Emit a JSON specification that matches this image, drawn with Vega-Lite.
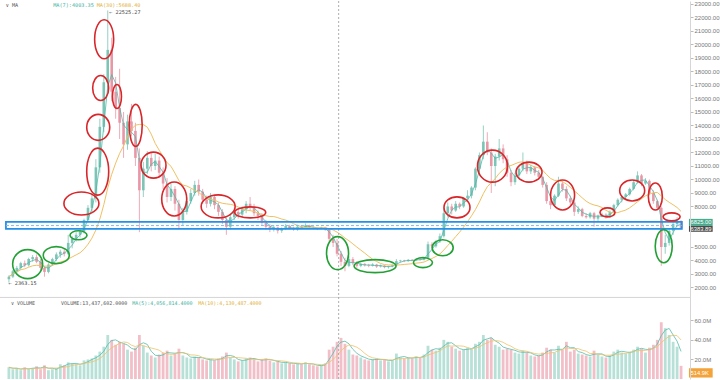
{
"$schema": "https://vega.github.io/schema/vega-lite/v6.json",
"width": 720, "height": 380,
"autosize": {"type": "fit", "contains": "padding"},
"padding": {"left": -5, "top": 0, "right": 0, "bottom": 0},
"background": "white",
"config": {"view": {"stroke": null}, "font": "Liberation Sans"},
"datasets": {
"candles": [
{"t":2,"o":2600,"h":2900,"l":2363.15,"c":2800,"v":12},
{"t":3,"o":2800,"h":3300,"l":2700,"c":3200,"v":10},
{"t":4,"o":3200,"h":3600,"l":3000,"c":3450,"v":11},
{"t":5,"o":3450,"h":3900,"l":3300,"c":3800,"v":9},
{"t":6,"o":3800,"h":4000,"l":3500,"c":3650,"v":12},
{"t":7,"o":3650,"h":4200,"l":3550,"c":4100,"v":10},
{"t":8,"o":4100,"h":4400,"l":3900,"c":4250,"v":11},
{"t":9,"o":4250,"h":4450,"l":3800,"c":3900,"v":13},
{"t":10,"o":3900,"h":4100,"l":3300,"c":3450,"v":10},
{"t":11,"o":3450,"h":3600,"l":2800,"c":3150,"v":14},
{"t":12,"o":3150,"h":3800,"l":3050,"c":3700,"v":9},
{"t":13,"o":3700,"h":4200,"l":3600,"c":4100,"v":10},
{"t":14,"o":4100,"h":4600,"l":3950,"c":4450,"v":11},
{"t":15,"o":4450,"h":4800,"l":4200,"c":4650,"v":15},
{"t":16,"o":4650,"h":4900,"l":4300,"c":4500,"v":14},
{"t":17,"o":4500,"h":5900,"l":4400,"c":5300,"v":17},
{"t":18,"o":5300,"h":5800,"l":4900,"c":5600,"v":16},
{"t":19,"o":5600,"h":6100,"l":5400,"c":5900,"v":15},
{"t":20,"o":5900,"h":6300,"l":5700,"c":6150,"v":14},
{"t":21,"o":6150,"h":7100,"l":6000,"c":7000,"v":19},
{"t":22,"o":7000,"h":8100,"l":6900,"c":7900,"v":20},
{"t":23,"o":7900,"h":9000,"l":7600,"c":8600,"v":21},
{"t":24,"o":8600,"h":11500,"l":8300,"c":10900,"v":24},
{"t":25,"o":10900,"h":14500,"l":10500,"c":13900,"v":28},
{"t":26,"o":13900,"h":17800,"l":13500,"c":17200,"v":33},
{"t":27,"o":17200,"h":22525.27,"l":16800,"c":19600,"v":45},
{"t":28,"o":19600,"h":20500,"l":15800,"c":16500,"v":40},
{"t":29,"o":16500,"h":17600,"l":14500,"c":15300,"v":35},
{"t":30,"o":15300,"h":18200,"l":13000,"c":14200,"v":38},
{"t":31,"o":14200,"h":15000,"l":11600,"c":12600,"v":36},
{"t":32,"o":12600,"h":14800,"l":12200,"c":14300,"v":30},
{"t":33,"o":14300,"h":15600,"l":13200,"c":13600,"v":28},
{"t":34,"o":13600,"h":14200,"l":11000,"c":11600,"v":32},
{"t":35,"o":11600,"h":12300,"l":6100,"c":9200,"v":45},
{"t":36,"o":9200,"h":11300,"l":8700,"c":10800,"v":34},
{"t":37,"o":10800,"h":12100,"l":10400,"c":11600,"v":27},
{"t":38,"o":11600,"h":12000,"l":10600,"c":11000,"v":24},
{"t":39,"o":11000,"h":11900,"l":10700,"c":11400,"v":22},
{"t":40,"o":11400,"h":11700,"l":10100,"c":10500,"v":25},
{"t":41,"o":10500,"h":10900,"l":9300,"c":9700,"v":27},
{"t":42,"o":9700,"h":10100,"l":8300,"c":8700,"v":29},
{"t":43,"o":8700,"h":9700,"l":8400,"c":9300,"v":24},
{"t":44,"o":9300,"h":9500,"l":7700,"c":8200,"v":26},
{"t":45,"o":8200,"h":8500,"l":6300,"c":7000,"v":31},
{"t":46,"o":7000,"h":7900,"l":6600,"c":7600,"v":24},
{"t":47,"o":7600,"h":8700,"l":7400,"c":8400,"v":22},
{"t":48,"o":8400,"h":9300,"l":8200,"c":9000,"v":21},
{"t":49,"o":9000,"h":9900,"l":8800,"c":9600,"v":23},
{"t":50,"o":9600,"h":10000,"l":8800,"c":9100,"v":22},
{"t":51,"o":9100,"h":9300,"l":8200,"c":8500,"v":20},
{"t":52,"o":8500,"h":8800,"l":7900,"c":8200,"v":19},
{"t":53,"o":8200,"h":9000,"l":8000,"c":8700,"v":20},
{"t":54,"o":8700,"h":8800,"l":7800,"c":8100,"v":19},
{"t":55,"o":8100,"h":8300,"l":7300,"c":7600,"v":21},
{"t":56,"o":7600,"h":7800,"l":6700,"c":7000,"v":23},
{"t":57,"o":7000,"h":7200,"l":5900,"c":6500,"v":27},
{"t":58,"o":6500,"h":7400,"l":6300,"c":7200,"v":22},
{"t":59,"o":7200,"h":7900,"l":7000,"c":7600,"v":20},
{"t":60,"o":7600,"h":7800,"l":7100,"c":7400,"v":18},
{"t":61,"o":7400,"h":8000,"l":7200,"c":7800,"v":19},
{"t":62,"o":7800,"h":8400,"l":7500,"c":8200,"v":21},
{"t":63,"o":8200,"h":8700,"l":7700,"c":8000,"v":22},
{"t":64,"o":8000,"h":8200,"l":7300,"c":7500,"v":20},
{"t":65,"o":7500,"h":7700,"l":7000,"c":7300,"v":18},
{"t":66,"o":7300,"h":7500,"l":6600,"c":6800,"v":20},
{"t":67,"o":6800,"h":7000,"l":6300,"c":6500,"v":21},
{"t":68,"o":6500,"h":6700,"l":6100,"c":6300,"v":19},
{"t":69,"o":6300,"h":6600,"l":6150,"c":6450,"v":17},
{"t":70,"o":6450,"h":6500,"l":6000,"c":6200,"v":18},
{"t":71,"o":6200,"h":6450,"l":6050,"c":6350,"v":16},
{"t":72,"o":6350,"h":6700,"l":6250,"c":6550,"v":17},
{"t":73,"o":6550,"h":6650,"l":6300,"c":6400,"v":16},
{"t":74,"o":6400,"h":6500,"l":6200,"c":6300,"v":15},
{"t":75,"o":6300,"h":6650,"l":6200,"c":6500,"v":16},
{"t":76,"o":6500,"h":6600,"l":6350,"c":6450,"v":15},
{"t":77,"o":6450,"h":6750,"l":6400,"c":6600,"v":17},
{"t":78,"o":6600,"h":6650,"l":6350,"c":6450,"v":15},
{"t":79,"o":6450,"h":6500,"l":6300,"c":6400,"v":14},
{"t":80,"o":6400,"h":6450,"l":6250,"c":6350,"v":13},
{"t":81,"o":6350,"h":6500,"l":6300,"c":6450,"v":14},
{"t":82,"o":6450,"h":6500,"l":6200,"c":6300,"v":16},
{"t":83,"o":6300,"h":6400,"l":5400,"c":5600,"v":30},
{"t":84,"o":5600,"h":5900,"l":5000,"c":5300,"v":33},
{"t":85,"o":5300,"h":5600,"l":4300,"c":4500,"v":38},
{"t":86,"o":4500,"h":4700,"l":3600,"c":3900,"v":42},
{"t":87,"o":3900,"h":4200,"l":3200,"c":3600,"v":36},
{"t":88,"o":3600,"h":4300,"l":3500,"c":4100,"v":30},
{"t":89,"o":4100,"h":4250,"l":3650,"c":3800,"v":25},
{"t":90,"o":3800,"h":3950,"l":3450,"c":3600,"v":24},
{"t":91,"o":3600,"h":3850,"l":3500,"c":3750,"v":22},
{"t":92,"o":3750,"h":3800,"l":3550,"c":3650,"v":20},
{"t":93,"o":3650,"h":3750,"l":3500,"c":3600,"v":19},
{"t":94,"o":3600,"h":3800,"l":3550,"c":3700,"v":20},
{"t":95,"o":3700,"h":3750,"l":3450,"c":3550,"v":21},
{"t":96,"o":3550,"h":3700,"l":3480,"c":3620,"v":19},
{"t":97,"o":3620,"h":3650,"l":3420,"c":3500,"v":20},
{"t":98,"o":3500,"h":3600,"l":3400,"c":3560,"v":18},
{"t":99,"o":3560,"h":3700,"l":3500,"c":3650,"v":19},
{"t":100,"o":3650,"h":4100,"l":3600,"c":3950,"v":26},
{"t":101,"o":3950,"h":4050,"l":3850,"c":4000,"v":22},
{"t":102,"o":4000,"h":4050,"l":3880,"c":3950,"v":21},
{"t":103,"o":3950,"h":4100,"l":3900,"c":4050,"v":22},
{"t":104,"o":4050,"h":4100,"l":3950,"c":4000,"v":21},
{"t":105,"o":4000,"h":4150,"l":3950,"c":4100,"v":23},
{"t":106,"o":4100,"h":4150,"l":4000,"c":4050,"v":22},
{"t":107,"o":4050,"h":4250,"l":4000,"c":4200,"v":25},
{"t":108,"o":4200,"h":5400,"l":4150,"c":5200,"v":34},
{"t":109,"o":5200,"h":5350,"l":4900,"c":5050,"v":30},
{"t":110,"o":5050,"h":5500,"l":4950,"c":5400,"v":29},
{"t":111,"o":5400,"h":6000,"l":5300,"c":5800,"v":32},
{"t":112,"o":5800,"h":7900,"l":5700,"c":7500,"v":40},
{"t":113,"o":7500,"h":8300,"l":7200,"c":8000,"v":38},
{"t":114,"o":8000,"h":8200,"l":7400,"c":7700,"v":33},
{"t":115,"o":7700,"h":8400,"l":7600,"c":8200,"v":31},
{"t":116,"o":8200,"h":8300,"l":7800,"c":8000,"v":29},
{"t":117,"o":8000,"h":8700,"l":7900,"c":8600,"v":30},
{"t":118,"o":8600,"h":9200,"l":8400,"c":8800,"v":32},
{"t":119,"o":8800,"h":9500,"l":8600,"c":9400,"v":31},
{"t":120,"o":9400,"h":10900,"l":9200,"c":10800,"v":36},
{"t":121,"o":10800,"h":12000,"l":10500,"c":11800,"v":38},
{"t":122,"o":11800,"h":14000,"l":11500,"c":12800,"v":45},
{"t":123,"o":12800,"h":13500,"l":11800,"c":12000,"v":40},
{"t":124,"o":12000,"h":12300,"l":9000,"c":11000,"v":42},
{"t":125,"o":11000,"h":11900,"l":9500,"c":11700,"v":35},
{"t":126,"o":11700,"h":13000,"l":11400,"c":12300,"v":33},
{"t":127,"o":12300,"h":12600,"l":11200,"c":11500,"v":30},
{"t":128,"o":11500,"h":11800,"l":10200,"c":10500,"v":31},
{"t":129,"o":10500,"h":10700,"l":9500,"c":9800,"v":30},
{"t":130,"o":9800,"h":10500,"l":9600,"c":10300,"v":27},
{"t":131,"o":10300,"h":11000,"l":10100,"c":10800,"v":26},
{"t":132,"o":10800,"h":12000,"l":10600,"c":11200,"v":29},
{"t":133,"o":11200,"h":11400,"l":10400,"c":10600,"v":27},
{"t":134,"o":10600,"h":11100,"l":10400,"c":10900,"v":24},
{"t":135,"o":10900,"h":11000,"l":10300,"c":10500,"v":23},
{"t":136,"o":10500,"h":10700,"l":10000,"c":10200,"v":24},
{"t":137,"o":10200,"h":10300,"l":9400,"c":9600,"v":27},
{"t":138,"o":9600,"h":9800,"l":8200,"c":8400,"v":32},
{"t":139,"o":8400,"h":8600,"l":7800,"c":8100,"v":30},
{"t":140,"o":8100,"h":8900,"l":8000,"c":8800,"v":27},
{"t":141,"o":8800,"h":10200,"l":8700,"c":9700,"v":34},
{"t":142,"o":9700,"h":9900,"l":9100,"c":9300,"v":30},
{"t":143,"o":9300,"h":9500,"l":8400,"c":8600,"v":38},
{"t":144,"o":8600,"h":8800,"l":8100,"c":8300,"v":28},
{"t":145,"o":8300,"h":8400,"l":7300,"c":7600,"v":30},
{"t":146,"o":7600,"h":8000,"l":7450,"c":7800,"v":26},
{"t":147,"o":7800,"h":7900,"l":7200,"c":7300,"v":25},
{"t":148,"o":7300,"h":7500,"l":7100,"c":7200,"v":24},
{"t":149,"o":7200,"h":7600,"l":7100,"c":7500,"v":23},
{"t":150,"o":7500,"h":7600,"l":6500,"c":7100,"v":29},
{"t":151,"o":7100,"h":7400,"l":6900,"c":7300,"v":25},
{"t":152,"o":7300,"h":7550,"l":7200,"c":7400,"v":23},
{"t":153,"o":7400,"h":7500,"l":7100,"c":7200,"v":22},
{"t":154,"o":7200,"h":7700,"l":7150,"c":7600,"v":24},
{"t":155,"o":7600,"h":8200,"l":7500,"c":8100,"v":28},
{"t":156,"o":8100,"h":8600,"l":8000,"c":8500,"v":30},
{"t":157,"o":8500,"h":8800,"l":8300,"c":8700,"v":27},
{"t":158,"o":8700,"h":9000,"l":8500,"c":8900,"v":26},
{"t":159,"o":8900,"h":9400,"l":8800,"c":9300,"v":28},
{"t":160,"o":9300,"h":9900,"l":9200,"c":9800,"v":30},
{"t":161,"o":9800,"h":10600,"l":9700,"c":10300,"v":33},
{"t":162,"o":10300,"h":10400,"l":9500,"c":9700,"v":31},
{"t":163,"o":9700,"h":10100,"l":9600,"c":9900,"v":27},
{"t":164,"o":9900,"h":10000,"l":8900,"c":9000,"v":32},
{"t":165,"o":9000,"h":9200,"l":8200,"c":8400,"v":35},
{"t":166,"o":8400,"h":8500,"l":7700,"c":7900,"v":40},
{"t":167,"o":7900,"h":8000,"l":3600,"c":5000,"v":58},
{"t":168,"o":5000,"h":5900,"l":4500,"c":5300,"v":52},
{"t":169,"o":5300,"h":6400,"l":5100,"c":6200,"v":45},
{"t":170,"o":6200,"h":6900,"l":5900,"c":6700,"v":38},
{"t":171,"o":6700,"h":7200,"l":6500,"c":6900,"v":33},
{"t":172,"o":6900,"h":7000,"l":6300,"c":6383.89,"v":13.44}
],
"ellipses": [
{"id":"R1","type":"resistance","t":26.09,"p":20384},
{"id":"R2","type":"resistance","t":25.21,"p":16773},
{"id":"R3","type":"resistance","t":29.33,"p":16147},
{"id":"R4","type":"resistance","t":24.59,"p":13862},
{"id":"R5","type":"resistance","t":34.07,"p":14010},
{"id":"R6","type":"resistance","t":24.46,"p":10583},
{"id":"R7","type":"resistance","t":38.57,"p":11062},
{"id":"R8","type":"resistance","t":20.34,"p":8225},
{"id":"R9","type":"resistance","t":43.81,"p":8557},
{"id":"R10","type":"resistance","t":54.92,"p":8004},
{"id":"R11","type":"resistance","t":63.03,"p":7562},
{"id":"R12","type":"resistance","t":115.33,"p":7930},
{"id":"R13","type":"resistance","t":124.31,"p":10988},
{"id":"R14","type":"resistance","t":133.55,"p":10546},
{"id":"R15","type":"resistance","t":142.04,"p":8851},
{"id":"R16","type":"resistance","t":153.4,"p":7562},
{"id":"R17","type":"resistance","t":159.64,"p":9183},
{"id":"R18","type":"resistance","t":165.5,"p":8741},
{"id":"R19","type":"resistance","t":169.62,"p":7230},
{"id":"G1","type":"support","t":6.74,"p":3730},
{"id":"G2","type":"support","t":13.98,"p":4393},
{"id":"G3","type":"support","t":19.6,"p":5867},
{"id":"G4","type":"support","t":85.12,"p":4541},
{"id":"G5","type":"support","t":94.61,"p":3583},
{"id":"G6","type":"support","t":106.72,"p":3841},
{"id":"G7","type":"support","t":111.71,"p":4946},
{"id":"G8","type":"support","t":167.62,"p":5056}
],
"band": [{"t0":1.25,"t1":172.2,"p0":6346,"p1":6862,"pm":6585}],
"hdr": [
{"t":1.2,"p":22889,"text":"∨  MA","series":"base"},
{"t":13.2,"p":22889,"text":"MA(7):4003.35","series":"fast"},
{"t":24.2,"p":22889,"text":"MA(30):5688.40","series":"slow"}
],
"hilabel": [{"t":27.4,"p":22525.27,"text":"← 22525.27"}],
"lolabel": [{"t":1.9,"p":2363.15,"text":"← 2363.15"}],
"ptags": [
{"t0":174,"t1":180,"p0":6567,"p1":7082,"pt":6825,"t":174.4,"label":"6825.00","kind":"last"},
{"t0":174,"t1":180,"p0":6125,"p1":6567,"pt":6346,"t":174.4,"label":"6383.89","kind":"cross"}
],
"vhdr": [
{"t":2.5,"v":77.3,"text":"∨  VOLUME","series":"base"},
{"t":15.2,"v":77.3,"text":"VOLUME:13,437,602.0000","series":"base"},
{"t":33.2,"v":77.3,"text":"MA(5):4,056,814.4000","series":"fast"},
{"t":49.9,"v":77.3,"text":"MA(10):4,130,487.4000","series":"slow"}
],
"vtag": [{"t0":174,"t1":180,"v0":1.5,"v1":11,"vt":6.2,"t":174.4,"label":"514.9K"}]
},
"layer": [
{"data":{"name":"candles"},"mark":{"type":"bar","size":2.8,"opacity":0.75},
 "encoding":{
  "x":{"field":"t","type":"quantitative","scale":{"domain":[0,173],"nice":false,"zero":false},"axis":null},
  "y":{"field":"v","type":"quantitative","scale":{"domain":[0,386.4],"nice":false,"zero":true},
       "axis":{"orient":"right","values":[20,40,60],"labelExpr":"format(datum.value,'.1f')+'M'","labelFontSize":6,"labelColor":"#777","labelFont":"Liberation Sans","tickSize":3,"tickColor":"#bbb","domain":false,"labelPadding":1,"title":null,"grid":false,"zindex":1}},
  "color":{"condition":{"test":"datum.c >= datum.o","value":"#9fd6ca"},"value":"#eeaab6"}}},
{"data":{"name":"candles"},
 "transform":[{"window":[{"op":"mean","field":"v","as":"vma"}],"frame":[-2,0],"sort":[{"field":"t","order":"ascending"}]}],
 "mark":{"type":"line","color":"#56bba9","strokeWidth":0.8},
 "encoding":{
  "x":{"field":"t","type":"quantitative","scale":{"domain":[0,173],"nice":false,"zero":false},"axis":null},
  "y":{"field":"vma","type":"quantitative","scale":{"domain":[0,386.4],"nice":false,"zero":true},"axis":null}}},
{"data":{"name":"candles"},
 "transform":[{"window":[{"op":"mean","field":"v","as":"vma"}],"frame":[-5,0],"sort":[{"field":"t","order":"ascending"}]}],
 "mark":{"type":"line","color":"#efc26a","strokeWidth":0.8},
 "encoding":{
  "x":{"field":"t","type":"quantitative","scale":{"domain":[0,173],"nice":false,"zero":false},"axis":null},
  "y":{"field":"vma","type":"quantitative","scale":{"domain":[0,386.4],"nice":false,"zero":true},"axis":null}}},
{"data":{"name":"candles"},"mark":{"type":"rule","strokeWidth":0.8},
 "encoding":{
  "x":{"field":"t","type":"quantitative","scale":{"domain":[0,173],"nice":false,"zero":false},"axis":null},
  "y":{"field":"l","type":"quantitative","scale":{"domain":[-4780,23221],"nice":false,"zero":false},
       "axis":{"orient":"right","values":[2000,3000,4000,5000,8000,9000,10000,11000,12000,13000,14000,15000,16000,17000,18000,19000,20000,21000,22000,23000],
               "format":".2f","labelFontSize":6,"labelColor":"#777","labelFont":"Liberation Sans","tickSize":3,"tickColor":"#bbb","domainColor":"#d6d6d6","labelPadding":1,"title":null,"grid":false,"zindex":1}},
  "y2":{"field":"h"},
  "color":{"condition":{"test":"datum.c >= datum.o","value":"#7cc4b5"},"value":"#e897a6"}}},
{"data":{"name":"candles"},"mark":{"type":"bar","size":2.6},
 "encoding":{
  "x":{"field":"t","type":"quantitative","scale":{"domain":[0,173],"nice":false,"zero":false},"axis":null},
  "y":{"field":"o","type":"quantitative","scale":{"domain":[-4780,23221],"nice":false,"zero":false},"axis":null},
  "y2":{"field":"c"},
  "color":{"condition":{"test":"datum.c >= datum.o","value":"#7cc4b5"},"value":"#e897a6"}}},
{"data":{"name":"candles"},
 "transform":[{"window":[{"op":"mean","field":"c","as":"ma"}],"frame":[-2,0],"sort":[{"field":"t","order":"ascending"}]}],
 "mark":{"type":"line","color":"#4fb8a8","strokeWidth":0.8},
 "encoding":{
  "x":{"field":"t","type":"quantitative","scale":{"domain":[0,173],"nice":false,"zero":false},"axis":null},
  "y":{"field":"ma","type":"quantitative","scale":{"domain":[-4780,23221],"nice":false,"zero":false},"axis":null}}},
{"data":{"name":"candles"},
 "transform":[{"window":[{"op":"mean","field":"c","as":"ma"}],"frame":[-11,0],"sort":[{"field":"t","order":"ascending"}]}],
 "mark":{"type":"line","color":"#f0c062","strokeWidth":1},
 "encoding":{
  "x":{"field":"t","type":"quantitative","scale":{"domain":[0,173],"nice":false,"zero":false},"axis":null},
  "y":{"field":"ma","type":"quantitative","scale":{"domain":[-4780,23221],"nice":false,"zero":false},"axis":null}}},
{"data":{"values":[{}]},"mark":{"type":"rule","color":"#d4d4d4","strokeWidth":1},
 "encoding":{"y":{"datum":1263,"type":"quantitative","scale":{"domain":[-4780,23221],"nice":false,"zero":false},"axis":null}}},
{"data":{"values":[{}]},"mark":{"type":"rule","color":"#9a9a9a","strokeWidth":0.8,"strokeDash":[2,2]},
 "encoding":{"x":{"datum":85.4,"type":"quantitative","scale":{"domain":[0,173],"nice":false,"zero":false},"axis":null}}},
{"data":{"name":"band"},"mark":{"type":"rect","fillOpacity":0,"stroke":"#2590e8","strokeWidth":1.8},
 "encoding":{
  "x":{"field":"t0","type":"quantitative","scale":{"domain":[0,173],"nice":false,"zero":false},"axis":null},
  "x2":{"field":"t1"},
  "y":{"field":"p0","type":"quantitative","scale":{"domain":[-4780,23221],"nice":false,"zero":false},"axis":null},
  "y2":{"field":"p1"}}},
{"data":{"name":"band"},"mark":{"type":"rule","color":"#7dbcf0","strokeWidth":1,"strokeDash":[3,2]},
 "encoding":{
  "x":{"field":"t0","type":"quantitative","scale":{"domain":[0,173],"nice":false,"zero":false},"axis":null},
  "x2":{"field":"t1"},
  "y":{"field":"pm","type":"quantitative","scale":{"domain":[-4780,23221],"nice":false,"zero":false},"axis":null}}},
{"data":{"name":"ellipses"},"mark":{"type":"point","filled":false,"strokeWidth":1.6,"size":4,"opacity":1},
 "encoding":{
  "x":{"field":"t","type":"quantitative","scale":{"domain":[0,173],"nice":false,"zero":false},"axis":null},
  "y":{"field":"p","type":"quantitative","scale":{"domain":[-4780,23221],"nice":false,"zero":false},"axis":null},
  "shape":{"field":"id","type":"nominal","legend":null,"scale":{
    "domain":["R1","R2","R3","R4","R5","R6","R7","R8","R9","R10","R11","R12","R13","R14","R15","R16","R17","R18","R19","G1","G2","G3","G4","G5","G6","G7","G8"],
    "range":[
     "M-9.5,0A9.5,19.5,0,1,0,9.5,0A9.5,19.5,0,1,0,-9.5,0Z",
     "M-8,0A8,12.5,0,1,0,8,0A8,12.5,0,1,0,-8,0Z",
     "M-4.5,0A4.5,12,0,1,0,4.5,0A4.5,12,0,1,0,-4.5,0Z",
     "M-11.5,0A11.5,13,0,1,0,11.5,0A11.5,13,0,1,0,-11.5,0Z",
     "M-6.5,0A6.5,21,0,1,0,6.5,0A6.5,21,0,1,0,-6.5,0Z",
     "M-11,0A11,23.5,0,1,0,11,0A11,23.5,0,1,0,-11,0Z",
     "M-12.5,0A12.5,13,0,1,0,12.5,0A12.5,13,0,1,0,-12.5,0Z",
     "M-17.5,0A17.5,11.5,0,1,0,17.5,0A17.5,11.5,0,1,0,-17.5,0Z",
     "M-12.5,0A12.5,17,0,1,0,12.5,0A12.5,17,0,1,0,-12.5,0Z",
     "M-17,0A17,11.5,0,1,0,17,0A17,11.5,0,1,0,-17,0Z",
     "M-15.5,0A15.5,5.5,0,1,0,15.5,0A15.5,5.5,0,1,0,-15.5,0Z",
     "M-13,0A13,10.5,0,1,0,13,0A13,10.5,0,1,0,-13,0Z",
     "M-15,0A15,16,0,1,0,15,0A15,16,0,1,0,-15,0Z",
     "M-13,0A13,10,0,1,0,13,0A13,10,0,1,0,-13,0Z",
     "M-12,0A12,15,0,1,0,12,0A12,15,0,1,0,-12,0Z",
     "M-7.5,0A7.5,4.5,0,1,0,7.5,0A7.5,4.5,0,1,0,-7.5,0Z",
     "M-12.5,0A12.5,10.5,0,1,0,12.5,0A12.5,10.5,0,1,0,-12.5,0Z",
     "M-7,0A7,13.5,0,1,0,7,0A7,13.5,0,1,0,-7,0Z",
     "M-8.5,0A8.5,4,0,1,0,8.5,0A8.5,4,0,1,0,-8.5,0Z",
     "M-15,0A15,14.5,0,1,0,15,0A15,14.5,0,1,0,-15,0Z",
     "M-13,0A13,8.5,0,1,0,13,0A13,8.5,0,1,0,-13,0Z",
     "M-8.5,0A8.5,4.5,0,1,0,8.5,0A8.5,4.5,0,1,0,-8.5,0Z",
     "M-11,0A11,16.5,0,1,0,11,0A11,16.5,0,1,0,-11,0Z",
     "M-21,0A21,6.5,0,1,0,21,0A21,6.5,0,1,0,-21,0Z",
     "M-9.5,0A9.5,5,0,1,0,9.5,0A9.5,5,0,1,0,-9.5,0Z",
     "M-10.5,0A10.5,8,0,1,0,10.5,0A10.5,8,0,1,0,-10.5,0Z",
     "M-8.5,0A8.5,16.5,0,1,0,8.5,0A8.5,16.5,0,1,0,-8.5,0Z"]}},
  "color":{"condition":{"test":"datum.type === 'support'","value":"#22a035"},"value":"#d8262a"}}},
{"data":{"name":"hdr"},"mark":{"type":"text","align":"left","baseline":"middle","font":"DejaVu Sans Mono","fontSize":5.2},
 "encoding":{
  "x":{"field":"t","type":"quantitative","scale":{"domain":[0,173],"nice":false,"zero":false},"axis":null},
  "y":{"field":"p","type":"quantitative","scale":{"domain":[-4780,23221],"nice":false,"zero":false},"axis":null},
  "text":{"field":"text"},
  "color":{"condition":[{"test":"datum.series === 'fast'","value":"#45b3a3"},{"test":"datum.series === 'slow'","value":"#e2b13c"}],"value":"#555555"}}},
{"data":{"name":"hilabel"},"mark":{"type":"text","align":"left","baseline":"top","font":"DejaVu Sans Mono","fontSize":5.2,"color":"#444"},
 "encoding":{
  "x":{"field":"t","type":"quantitative","scale":{"domain":[0,173],"nice":false,"zero":false},"axis":null},
  "y":{"field":"p","type":"quantitative","scale":{"domain":[-4780,23221],"nice":false,"zero":false},"axis":null},
  "text":{"field":"text"}}},
{"data":{"name":"lolabel"},"mark":{"type":"text","align":"left","baseline":"middle","font":"DejaVu Sans Mono","fontSize":5.2,"color":"#444"},
 "encoding":{
  "x":{"field":"t","type":"quantitative","scale":{"domain":[0,173],"nice":false,"zero":false},"axis":null},
  "y":{"field":"p","type":"quantitative","scale":{"domain":[-4780,23221],"nice":false,"zero":false},"axis":null},
  "text":{"field":"text"}}},
{"data":{"name":"ptags"},"mark":{"type":"rect"},
 "encoding":{
  "x":{"field":"t0","type":"quantitative","scale":{"domain":[0,173],"nice":false,"zero":false},"axis":null},
  "x2":{"field":"t1"},
  "y":{"field":"p0","type":"quantitative","scale":{"domain":[-4780,23221],"nice":false,"zero":false},"axis":null},
  "y2":{"field":"p1"},
  "color":{"condition":{"test":"datum.kind === 'last'","value":"#45ad8d"},"value":"#4a4a4a"}}},
{"data":{"name":"ptags"},"mark":{"type":"text","align":"left","baseline":"middle","fontSize":5.8,"color":"white","font":"Liberation Sans"},
 "encoding":{
  "x":{"field":"t","type":"quantitative","scale":{"domain":[0,173],"nice":false,"zero":false},"axis":null},
  "y":{"field":"pt","type":"quantitative","scale":{"domain":[-4780,23221],"nice":false,"zero":false},"axis":null},
  "text":{"field":"label"}}},
{"data":{"name":"vhdr"},"mark":{"type":"text","align":"left","baseline":"middle","font":"DejaVu Sans Mono","fontSize":5},
 "encoding":{
  "x":{"field":"t","type":"quantitative","scale":{"domain":[0,173],"nice":false,"zero":false},"axis":null},
  "y":{"field":"v","type":"quantitative","scale":{"domain":[0,386.4],"nice":false,"zero":true},"axis":null},
  "text":{"field":"text"},
  "color":{"condition":[{"test":"datum.series === 'fast'","value":"#45b3a3"},{"test":"datum.series === 'slow'","value":"#e2b13c"}],"value":"#555555"}}},
{"data":{"name":"vtag"},"mark":{"type":"rect","color":"#f3a33a"},
 "encoding":{
  "x":{"field":"t0","type":"quantitative","scale":{"domain":[0,173],"nice":false,"zero":false},"axis":null},
  "x2":{"field":"t1"},
  "y":{"field":"v0","type":"quantitative","scale":{"domain":[0,386.4],"nice":false,"zero":true},"axis":null},
  "y2":{"field":"v1"}}},
{"data":{"name":"vtag"},"mark":{"type":"text","align":"left","baseline":"middle","fontSize":5.8,"color":"white","font":"Liberation Sans"},
 "encoding":{
  "x":{"field":"t","type":"quantitative","scale":{"domain":[0,173],"nice":false,"zero":false},"axis":null},
  "y":{"field":"vt","type":"quantitative","scale":{"domain":[0,386.4],"nice":false,"zero":true},"axis":null},
  "text":{"field":"label"}}}
],
"resolve": {"scale": {"y": "independent"}, "axis": {"y": "independent"}}
}
